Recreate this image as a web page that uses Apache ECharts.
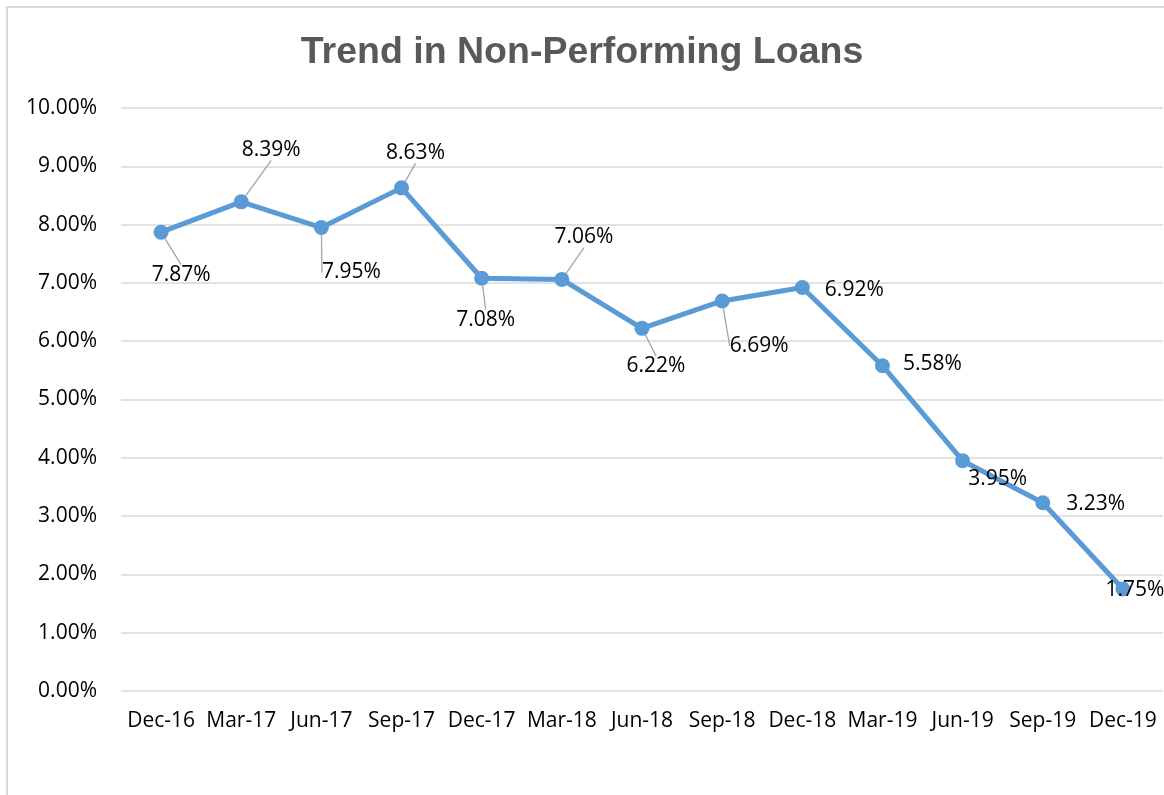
<!DOCTYPE html>
<html>
<head>
<meta charset="utf-8">
<script src="https://cdn.jsdelivr.net/npm/echarts@6/dist/echarts.min.js"></script>
<style>
  html, body { margin: 0; padding: 0; background: #fff; overflow: hidden; }
  #frame { position: absolute; left: 6px; top: 6px; width: 1300px; height: 900px; border: 2px solid #d9d9d9; box-sizing: border-box; }
  #chart { position: absolute; left: 0; top: 0; width: 1164px; height: 795px; }
</style>
</head>
<body>
<div id="frame"></div>
<div id="chart"></div>
<script>
const categories = ['Dec-16','Mar-17','Jun-17','Sep-17','Dec-17','Mar-18','Jun-18','Sep-18','Dec-18','Mar-19','Jun-19','Sep-19','Dec-19'];
const nplValues = [7.87, 8.39, 7.95, 8.63, 7.08, 7.06, 6.22, 6.69, 6.92, 5.58, 3.95, 3.23, 1.75];
const yTicks = { min: 0, max: 10, interval: 1 };

// label placement (offset of label centre from its point) and whether a leader line is drawn
const labelOffsets = [[20,43],[30,-52],[30,45],[14,-35],[4,42],[22,-42],[14,38],[37,45],[52,2],[50,-2],[35,18],[53,1],[12,1]];
const labelLeaders = [true,true,true,true,true,true,true,true,false,false,false,false,false];

const chart = echarts.init(document.getElementById('chart'), null, { renderer: 'canvas' });

const seriesData = nplValues.map((v, i) => ({
  value: v,
  labelLine: { show: labelLeaders[i] }
}));

chart.setOption({
  backgroundColor: 'transparent',
  animation: false,
  title: {
    text: 'Trend in Non-Performing Loans',
    left: 'center',
    top: 29,
    textStyle: { fontFamily: 'Liberation Sans', fontWeight: 'bold', fontSize: 37.5, color: '#595959' }
  },
  grid: { left: 121, right: 1, top: 108, bottom: 104, containLabel: false },
  xAxis: {
    type: 'category',
    data: categories,
    boundaryGap: true,
    axisLine: { show: false },
    axisTick: { show: false },
    axisLabel: { fontFamily: 'Open Sans', fontSize: 21, color: '#000', margin: 20, interval: 0 }
  },
  yAxis: {
    type: 'value',
    min: yTicks.min,
    max: yTicks.max,
    interval: yTicks.interval,
    axisLine: { show: false },
    axisTick: { show: false },
    splitLine: { lineStyle: { color: '#d9d9d9', width: 1.5 } },
    axisLabel: {
      fontFamily: 'Open Sans', fontSize: 21, color: '#000', margin: 24,
      formatter: v => v.toFixed(2) + '%'
    }
  },
  series: [{
    type: 'line',
    data: seriesData,
    symbol: 'circle',
    symbolSize: 15,
    lineStyle: { color: '#5b9bd5', width: 5 },
    itemStyle: { color: '#5b9bd5' },
    label: {
      show: true,
      position: 'inside',
      fontFamily: 'Open Sans',
      fontSize: 21,
      color: '#000',
      formatter: p => p.value.toFixed(2) + '%'
    },
    labelLine: { show: true, lineStyle: { color: '#a6a6a6', width: 1.3 } },
    labelLayout: function (params) {
      const o = labelOffsets[params.dataIndex];
      return { dx: o[0], dy: o[1] };
    },
    z: 3
  }]
});
</script>
</body>
</html>
